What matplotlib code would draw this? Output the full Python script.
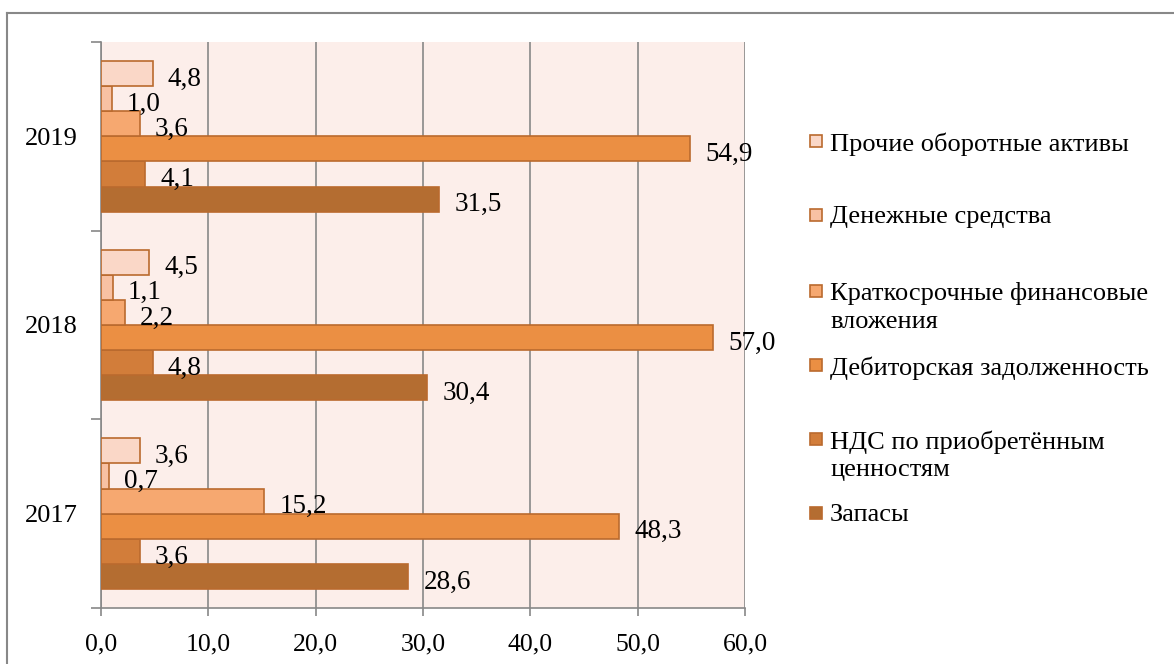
import matplotlib.pyplot as plt
from matplotlib.lines import Line2D
from matplotlib.patches import Rectangle
import numpy as np

plt.rcParams['font.family'] = ['Liberation Serif', 'DejaVu Serif']

years = ['2017', '2018', '2019']
# series from bottom (first) to top (last) inside each year group
series = ['Запасы', 'НДС по приобретённым\nценностям', 'Дебиторская задолженность',
          'Краткосрочные финансовые\nвложения', 'Денежные средства', 'Прочие оборотные активы']
zapasy = [28.6, 30.4, 31.5]
nds = [3.6, 4.8, 4.1]
debitor = [48.3, 57.0, 54.9]
kratko = [15.2, 2.2, 3.6]
dengi = [0.7, 1.1, 1.0]
prochie = [3.6, 4.5, 4.8]
values = [zapasy, nds, debitor, kratko, dengi, prochie]
colors = ['#B46D31', '#D27D3A', '#EB8F43', '#F6A870', '#F8C1A3', '#FAD7C7']
edge = '#BA6A2E'

W, H = 1174, 664
fig = plt.figure(figsize=(W / 100, H / 100), dpi=100)
ax = fig.add_axes([101 / W, 1 - 608 / H, (745 - 101) / W, (608 - 42) / H])
ax.set_facecolor('#FCEEEA')

n = len(series)
h = 0.8 / n
y = np.arange(len(years))
for i, (vals, c) in enumerate(zip(values, colors)):
    pos = y - 0.4 + (i + 0.5) * h
    ax.barh(pos, vals, height=h, color=c, edgecolor=edge, linewidth=1.2, zorder=3)
    for p, v in zip(pos, vals):
        ax.annotate(f'{v:.1f}'.replace('.', ','), (v, p), xytext=(11, -4),
                    textcoords='offset points', ha='left', va='center',
                    fontsize=19.5, zorder=4)

ax.set_xlim(0, 60)
ax.set_ylim(-0.5, 2.5)
ax.set_xticks(np.arange(0, 61, 10))
ax.set_xticklabels([f'{t:.1f}'.replace('.', ',') for t in np.arange(0, 61, 10)], fontsize=18.5)
ax.set_yticks(y)
ax.set_yticklabels(years, fontsize=19)
ax.set_yticks([-0.5, 0.5, 1.5, 2.5], minor=True)
ax.tick_params(axis='y', which='major', length=0, pad=17)
ax.tick_params(axis='y', which='minor', length=7, color='#888888', width=1.2)
ax.tick_params(axis='x', length=6, color='#888888', width=1.2, pad=12)
ax.grid(axis='x', color='#888888', linewidth=1.2, zorder=1)
for s in ['top', 'right']:
    ax.spines[s].set_visible(False)
for s in ['left', 'bottom']:
    ax.spines[s].set_color('#888888')
    ax.spines[s].set_linewidth(1.2)

# outer chart border
fig.add_artist(Line2D([7 / W, 1.0], [1 - 13 / H, 1 - 13 / H], color='#888888', lw=1.5))
fig.add_artist(Line2D([7 / W, 7 / W], [0, 1 - 13 / H], color='#888888', lw=1.5))

# legend, drawn by hand in Excel order (top series first)
leg_y = [141, 215, 291, 365, 439, 513]
for name, c, ly in zip(series[::-1], colors[::-1], leg_y):
    fig.add_artist(Rectangle((810 / W, 1 - (ly + 6) / H), 12 / W, 12 / H,
                             facecolor=c, edgecolor=edge, lw=1.2))
    fig.text(830 / W, 1 - (ly - 9) / H, name, fontsize=19, va='top', ha='left',
             linespacing=1.35)

fig.savefig('out.png', dpi=100)
